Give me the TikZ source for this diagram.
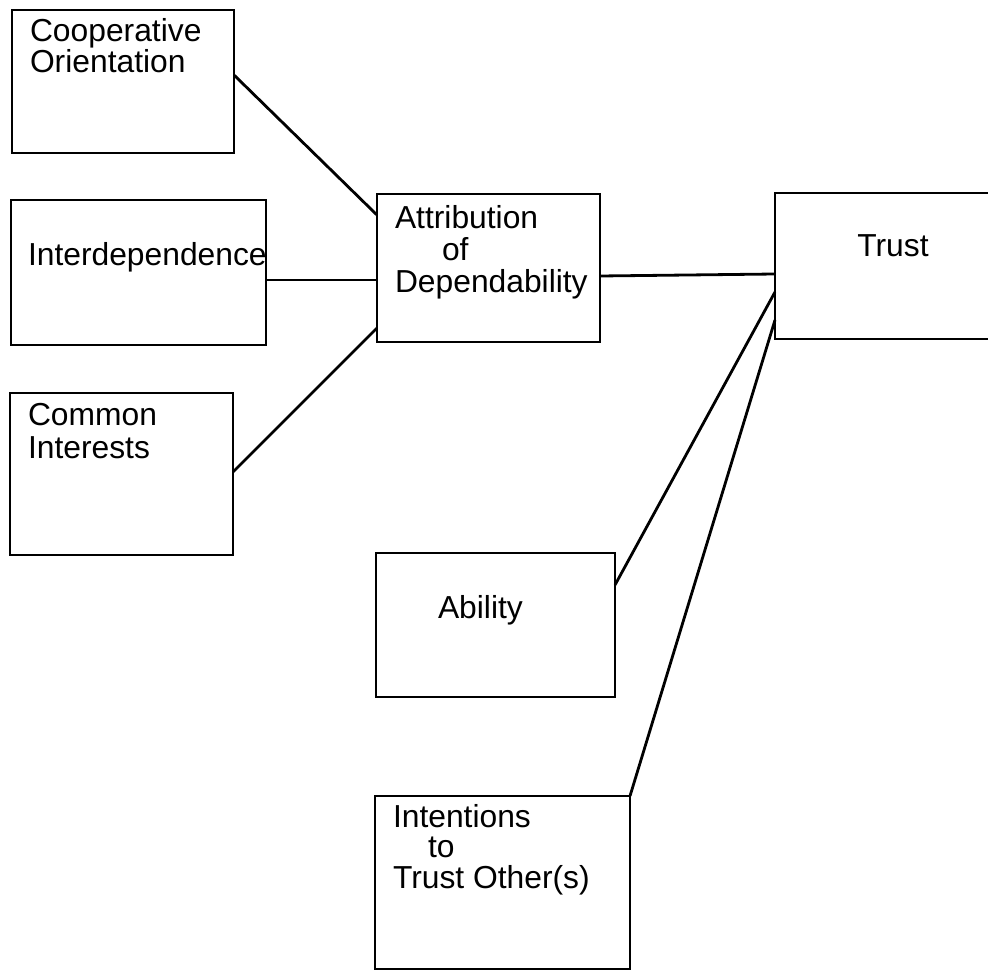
\documentclass[tikz,border=0pt]{standalone}
\usepackage{fontspec}
\setmainfont{Liberation Sans}
\usetikzlibrary{calc}
\begin{document}
\begin{tikzpicture}[x=1pt,y=-1pt,
  box/.style={draw=black,line width=2.8pt,rectangle,inner sep=0pt,outer sep=0pt,anchor=north west},
  lbl/.style={inner sep=0pt,outer sep=0pt,anchor=base west,font=\fontsize{31.8}{32}\selectfont},
  link/.style={draw=black,line width=2.8pt}]
\useasboundingbox (0,0) rectangle (988,971);
\clip (0,0) rectangle (988,971);
\fill[white] (0,0) rectangle (988,971);
% boxes
\node[box,minimum width=222pt,minimum height=143pt] (coop) at (12,10) {};
\node[box,minimum width=255pt,minimum height=145pt] (inter) at (11,200) {};
\node[box,minimum width=223pt,minimum height=162pt] (common) at (10,393) {};
\node[box,minimum width=223pt,minimum height=148pt] (attr) at (377,194) {};
\node[box,minimum width=225pt,minimum height=146pt] (trust) at (775,193) {};
\node[box,minimum width=239pt,minimum height=144pt] (ability) at (376,553) {};
\node[box,minimum width=255pt,minimum height=173pt] (intent) at (375,796) {};
% texts
\node[lbl] (t1a) at (30,42) {Cooperative};
\node[lbl] (t1b) at (30,73) {Orientation};
\node[lbl] (t2) at (28,265) {Interdependence};
\node[lbl] (t3a) at (28,425) {Common};
\node[lbl] (t3b) at (28,458) {Interests};
\node[lbl] (t4a) at (395,228) {Attribution};
\node[lbl] (t4b) at (442,260) {of};
\node[lbl] (t4c) at (395,292) {Dependability};
\node[lbl,anchor=base] (t5) at (893,256) {Trust};
\node[lbl] (t6) at (438,618) {Ability};
\node[lbl] (t7a) at (393,827) {Intentions};
\node[lbl] (t7b) at (428,857) {to};
\node[lbl] (t7c) at (393,888) {Trust Other(s)};
% connectors
\draw[link] ($(coop.north east)+(0,65)$) -- ($(attr.north west)+(0,21)$);
\draw[link] ($(inter.north east)+(0,80)$) -- ($(attr.north west)+(0,86)$);
\draw[link] ($(common.north east)+(0,79)$) -- ($(attr.north west)+(0,134)$);
\draw[link] ($(attr.north east)+(0,82)$) -- ($(trust.north west)+(0,81)$);
\draw[link] ($(ability.north east)+(0,32)$) -- ($(trust.north west)+(0,99)$);
\draw[link] (intent.north east) -- ($(trust.north west)+(0,127)$);
\end{tikzpicture}
\end{document}
